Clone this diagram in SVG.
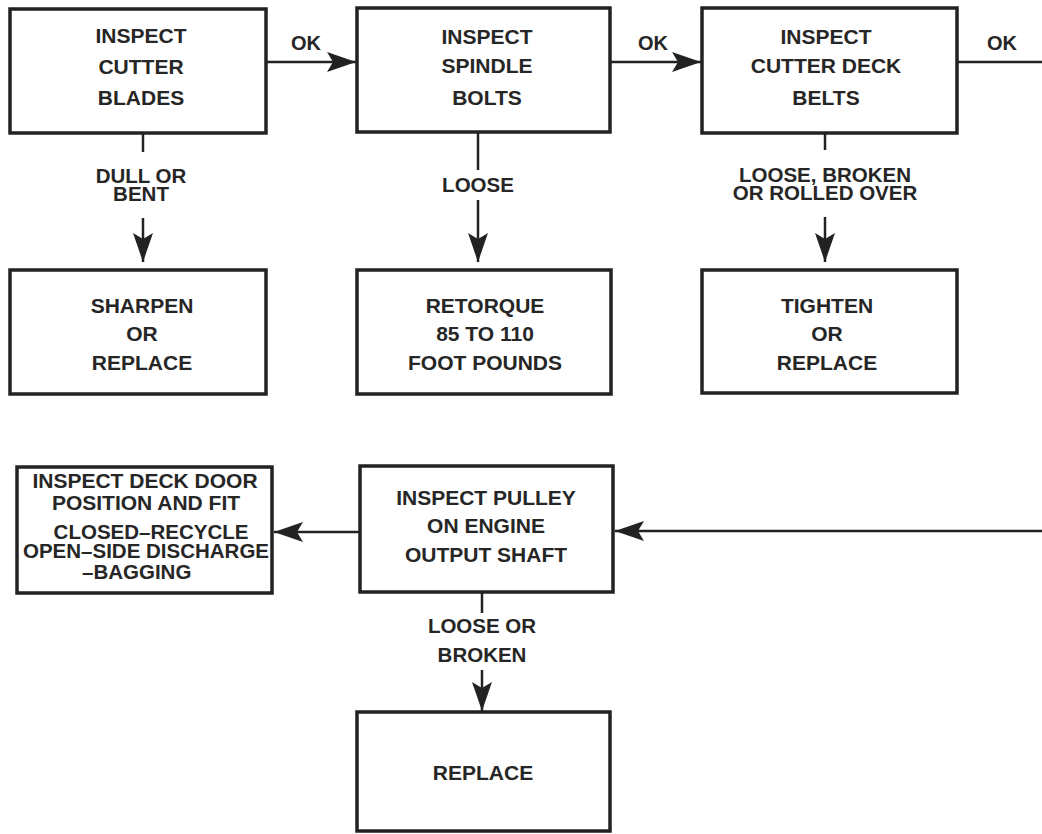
<svg xmlns="http://www.w3.org/2000/svg" width="1042" height="834" viewBox="0 0 1042 834">
<style>
.box{fill:#fff;stroke:#222;stroke-width:3.5}
.ln{fill:none;stroke:#222;stroke-width:2.5}
text{font-family:"Liberation Sans",Arial,sans-serif;font-weight:bold;fill:#262626;text-anchor:middle}
.t{font-size:21px}
.l{font-size:20.5px}
.s{font-size:20px}
.d{font-size:21px}
.e{font-size:20.5px}
</style>
<defs>
<marker id="ah" markerUnits="userSpaceOnUse" markerWidth="32" markerHeight="22" viewBox="-30 -11 32 22" refX="0" refY="0" orient="auto">
<path d="M0,0 L-29,-10 L-23,0 L-29,10 Z" fill="#222"/>
</marker>
</defs>
<rect width="1042" height="834" fill="#fff"/>
<g id="connectors">
<line class="ln" x1="266" y1="62" x2="356" y2="62" marker-end="url(#ah)"/>
<line class="ln" x1="610" y1="62" x2="701" y2="62" marker-end="url(#ah)"/>
<line class="ln" x1="957" y1="62" x2="1042" y2="62"/>
<line class="ln" x1="143" y1="133" x2="143" y2="152"/>
<line class="ln" x1="143" y1="218" x2="143" y2="262" marker-end="url(#ah)"/>
<line class="ln" x1="478" y1="132" x2="478" y2="170"/>
<line class="ln" x1="478" y1="200" x2="478" y2="262" marker-end="url(#ah)"/>
<line class="ln" x1="825" y1="133" x2="825" y2="150"/>
<line class="ln" x1="825" y1="217" x2="825" y2="262" marker-end="url(#ah)"/>
<line class="ln" x1="1042" y1="531" x2="615" y2="531" marker-end="url(#ah)"/>
<line class="ln" x1="360" y1="532" x2="274" y2="532" marker-end="url(#ah)"/>
<line class="ln" x1="482" y1="592" x2="482" y2="613"/>
<line class="ln" x1="482" y1="670" x2="482" y2="711" marker-end="url(#ah)"/>
<text class="s" x="306" y="50">OK</text>
<text class="s" x="653" y="50">OK</text>
<text class="s" x="1002" y="50">OK</text>
<text class="l" x="141" y="183">DULL OR</text>
<text class="l" x="141" y="201">BENT</text>
<text class="l" x="478" y="192">LOOSE</text>
<text class="l" x="825" y="182">LOOSE, BROKEN</text>
<text class="l" x="825" y="200">OR ROLLED OVER</text>
<text class="l" x="482" y="633">LOOSE OR</text>
<text class="l" x="482" y="662">BROKEN</text>
</g>
<g id="n-blades">
<rect class="box" x="10" y="9" width="256" height="124"/>
<text class="t" x="141" y="43">INSPECT</text>
<text class="t" x="141" y="74">CUTTER</text>
<text class="t" x="141" y="105">BLADES</text>
</g>
<g id="n-spindle">
<rect class="box" x="357" y="8" width="253" height="124"/>
<text class="t" x="487" y="44">INSPECT</text>
<text class="t" x="487" y="73">SPINDLE</text>
<text class="t" x="487" y="105">BOLTS</text>
</g>
<g id="n-belts">
<rect class="box" x="702" y="8" width="255" height="125"/>
<text class="t" x="826" y="44">INSPECT</text>
<text class="t" x="826" y="73">CUTTER DECK</text>
<text class="t" x="826" y="105">BELTS</text>
</g>
<g id="n-sharpen">
<rect class="box" x="10" y="270" width="256" height="124"/>
<text class="t" x="142" y="313">SHARPEN</text>
<text class="t" x="142" y="341">OR</text>
<text class="t" x="142" y="370">REPLACE</text>
</g>
<g id="n-retorque">
<rect class="box" x="357" y="270" width="254" height="124"/>
<text class="t" x="485" y="313">RETORQUE</text>
<text class="t" x="485" y="341">85 TO 110</text>
<text class="t" x="485" y="370">FOOT POUNDS</text>
</g>
<g id="n-tighten">
<rect class="box" x="702" y="270" width="255" height="123"/>
<text class="t" x="827" y="313">TIGHTEN</text>
<text class="t" x="827" y="341">OR</text>
<text class="t" x="827" y="370">REPLACE</text>
</g>
<g id="n-deckdoor">
<rect class="box" x="17" y="467" width="255" height="126"/>
<text class="d" x="145" y="488">INSPECT DECK DOOR</text>
<text class="d" x="146" y="510">POSITION AND FIT</text>
<text class="e" x="151" y="539">CLOSED–RECYCLE</text>
<text class="e" x="146" y="558">OPEN–SIDE DISCHARGE</text>
<text class="e" x="82" y="579" style="text-anchor:start">–BAGGING</text>
</g>
<g id="n-pulley">
<rect class="box" x="360" y="466" width="253" height="126"/>
<text class="t" x="486" y="505">INSPECT PULLEY</text>
<text class="t" x="486" y="533">ON ENGINE</text>
<text class="t" x="486" y="562">OUTPUT SHAFT</text>
</g>
<g id="n-replace">
<rect class="box" x="357" y="712" width="253" height="119"/>
<text class="t" x="483" y="780">REPLACE</text>
</g>
</svg>
